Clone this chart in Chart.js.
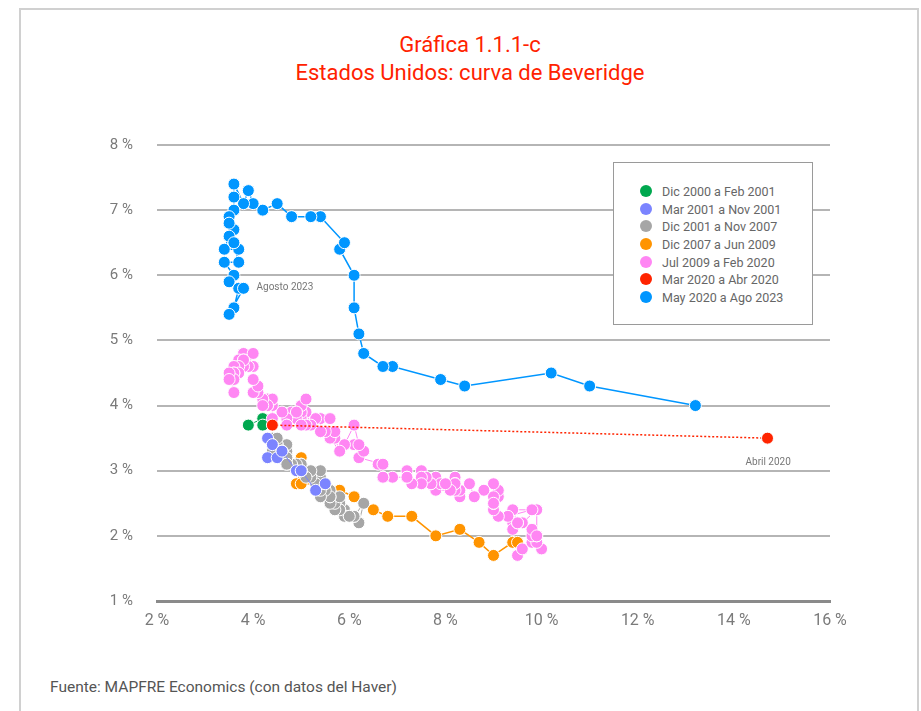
<!DOCTYPE html>
<html lang="es">
<head>
<meta charset="utf-8">
<title>Estados Unidos: curva de Beveridge</title>
<script src="https://cdn.jsdelivr.net/npm/chart.js@4.4.0/dist/chart.umd.min.js"></script>
<style>
    body { margin: 0; background: #fff; font-family: Roboto, "Open Sans", sans-serif; }
    #pagina { position: relative; width: 921px; height: 711px; overflow: hidden; }
    #marco { position: absolute; left: 19px; top: 8px; width: 896px; height: 730px; border: 2px solid #d0d0d0; }
    #titulo { position: absolute; left: 0; top: 31px; width: 940px; text-align: center; color: #ff2200; font-size: 22px; line-height: 28px; }
    #grafico { position: absolute; left: 100px; top: 130px; width: 760px; height: 520px; }
    #leyenda { position: absolute; left: 613px; top: 162px; width: 198px; height: 161px; background: #fff; border: 1.5px solid #9a9a9a; }
    #leyenda ul { list-style: none; margin: 0; padding: 20px 0 0 26px; }
    #leyenda li { height: 17.7px; line-height: 17.7px; font-size: 12.5px; color: #666; white-space: nowrap; }
    #leyenda span { display: inline-block; width: 12px; height: 12px; border-radius: 50%; margin-right: 10px; vertical-align: -1px; }
    .nota { position: absolute; font-size: 10px; color: #777; white-space: nowrap; }
    #fuente { position: absolute; left: 50px; top: 678px; font-size: 15.5px; color: #555; }
</style>
</head>
<body>
<div id="pagina">
    <div id="marco"></div>
    <div id="titulo">Gráfica 1.1.1-c<br>Estados Unidos: curva de Beveridge</div>
    <div id="grafico"><canvas id="lienzo" width="760" height="520"></canvas></div>
    <div id="leyenda"><ul id="listaLeyenda"></ul></div>
    <div class="nota" id="notaAgosto">Agosto 2023</div>
    <div class="nota" id="notaAbril">Abril 2020</div>
    <div id="fuente">Fuente: MAPFRE Economics (con datos del Haver)</div>
</div>

<script>
    // Datos: tasa de desempleo (eje X) y tasa de vacantes (eje Y), en %
    var etiquetas = ['Dic 2000 a Feb 2001', 'Mar 2001 a Nov 2001', 'Dic 2001 a Nov 2007', 'Dic 2007 a Jun 2009',
        'Jul 2009 a Feb 2020', 'Mar 2020 a Abr 2020', 'May 2020 a Ago 2023'];

    var ticksX = [2, 4, 6, 8, 10, 12, 14, 16];
    var ticksY = [1, 2, 3, 4, 5, 6, 7, 8];

    var desempleo2000 = [3.9, 4.2, 4.2];
    var vacantes2000 = [3.7, 3.8, 3.7];

    var desempleo2001 = [4.3, 4.4, 4.3, 4.5, 4.6, 4.9, 5.0, 5.3, 5.5];
    var vacantes2001 = [3.5, 3.4, 3.2, 3.2, 3.3, 3.0, 3.0, 2.7, 2.8];

    var desempleo2002 = [
        5.7,
        5.7, 5.7, 5.7, 5.9, 5.8, 5.8, 5.8, 5.7, 5.7, 5.7, 5.9, 6.0,
        5.8, 5.9, 5.9, 6.0, 6.1, 6.3, 6.2, 6.1, 6.1, 6.0, 5.8, 5.7,
        5.7, 5.6, 5.8, 5.6, 5.6, 5.6, 5.5, 5.4, 5.4, 5.5, 5.4, 5.4,
        5.3, 5.4, 5.2, 5.2, 5.1, 5.0, 5.0, 4.9, 5.0, 5.0, 5.0, 4.9,
        4.7, 4.8, 4.7, 4.7, 4.6, 4.6, 4.7, 4.7, 4.5, 4.4, 4.5, 4.4,
        4.6, 4.5, 4.4, 4.5, 4.4, 4.6, 4.7, 4.6, 4.7, 4.7, 4.7];
    var vacantes2002 = [
        2.6,
        2.6, 2.5, 2.5, 2.4, 2.5, 2.4, 2.5, 2.5, 2.4, 2.4, 2.3, 2.3,
        2.4, 2.3, 2.3, 2.3, 2.3, 2.5, 2.2, 2.3, 2.3, 2.3, 2.4, 2.4,
        2.5, 2.5, 2.6, 2.6, 2.7, 2.6, 2.7, 2.6, 2.7, 2.8, 2.8, 2.9,
        2.8, 3.0, 2.9, 3.0, 2.9, 3.0, 3.0, 3.1, 3.1, 3.1, 3.0, 3.1,
        3.2, 3.1, 3.2, 3.3, 3.3, 3.4, 3.3, 3.4, 3.4, 3.5, 3.4, 3.4,
        3.3, 3.5, 3.4, 3.3, 3.3, 3.3, 3.2, 3.3, 3.2, 3.1, 3.1];

    var desempleo2008 = [5.0, 5.0, 4.9, 5.1, 5.0, 5.4, 5.6, 5.8, 6.1, 6.1, 6.5, 6.8, 7.3, 7.8, 8.3, 8.7, 9.0, 9.4, 9.5];
    var vacantes2008 = [3.2, 3.0, 2.8, 2.9, 2.8, 2.8, 2.7, 2.7, 2.6, 2.6, 2.4, 2.3, 2.3, 2.0, 2.1, 1.9, 1.7, 1.9, 1.9];

    var desempleo2009 = [
        9.5, 9.6, 9.8, 10.0, 9.9, 9.9,
        9.8, 9.8, 9.9, 9.9, 9.6, 9.4, 9.4, 9.5, 9.5, 9.4, 9.8, 9.3,
        9.1, 9.0, 9.0, 9.1, 9.0, 9.1, 9.0, 9.0, 9.0, 8.8, 8.6, 8.5,
        8.3, 8.3, 8.2, 8.2, 8.2, 8.2, 8.2, 8.1, 7.8, 7.8, 7.7, 7.9,
        8.0, 7.7, 7.5, 7.6, 7.5, 7.5, 7.3, 7.2, 7.2, 7.2, 6.9, 6.7,
        6.6, 6.7, 6.7, 6.2, 6.3, 6.1, 6.2, 6.1, 5.9, 5.7, 5.8, 5.6,
        5.7, 5.5, 5.4, 5.4, 5.6, 5.3, 5.2, 5.1, 5.0, 5.0, 5.1, 5.0,
        4.8, 4.9, 5.0, 5.1, 4.8, 4.9, 4.8, 4.9, 5.0, 4.9, 4.7, 4.7,
        4.7, 4.6, 4.4, 4.4, 4.4, 4.3, 4.3, 4.4, 4.3, 4.2, 4.2, 4.1,
        4.0, 4.1, 4.0, 4.0, 3.8, 4.0, 3.8, 3.8, 3.7, 3.8, 3.8, 3.9,
        4.0, 3.8, 3.8, 3.7, 3.6, 3.6, 3.7, 3.6, 3.5, 3.6, 3.6, 3.6,
        3.5, 3.5];
    var vacantes2009 = [
        1.7, 1.8, 1.9, 1.8, 1.9, 2.0,
        2.0, 2.1, 2.0, 2.4, 2.2, 2.2, 2.1, 2.2, 2.2, 2.4, 2.4, 2.3,
        2.3, 2.4, 2.5, 2.6, 2.5, 2.7, 2.6, 2.5, 2.8, 2.7, 2.6, 2.8,
        2.6, 2.7, 2.9, 2.8, 2.7, 2.8, 2.8, 2.7, 2.7, 2.9, 2.8, 2.8,
        2.8, 2.8, 3.0, 2.9, 2.9, 2.8, 2.8, 3.0, 2.9, 2.9, 2.9, 2.9,
        3.1, 2.9, 3.1, 3.2, 3.3, 3.4, 3.4, 3.7, 3.4, 3.5, 3.3, 3.5,
        3.6, 3.6, 3.6, 3.8, 3.8, 3.8, 3.7, 3.9, 3.7, 3.8, 3.7, 3.9,
        3.8, 3.9, 4.0, 4.1, 3.8, 3.9, 3.9, 3.8, 3.7, 3.9, 3.8, 3.7,
        3.7, 3.9, 4.0, 3.8, 4.1, 4.1, 4.0, 4.1, 4.0, 4.1, 4.0, 4.2,
        4.2, 4.3, 4.4, 4.6, 4.8, 4.6, 4.7, 4.8, 4.7, 4.6, 4.7, 4.6,
        4.8, 4.6, 4.7, 4.6, 4.5, 4.6, 4.5, 4.5, 4.4, 4.5, 4.4, 4.2,
        4.5, 4.4];

    var desempleo2020 = [4.4, 14.7];
    var vacantes2020 = [3.7, 3.5];

    var desempleo2023 = [13.2, 11.0, 10.2, 8.4, 7.9, 6.9, 6.7, 6.3, 6.2, 6.1, 6.1, 5.8, 5.9, 5.4, 5.2, 4.8, 4.5, 4.2, 4.0, 3.9,
        3.8, 3.6, 3.6, 3.6, 3.5, 3.6, 3.5, 3.5, 3.4, 3.7, 3.6, 3.7, 3.4, 3.6, 3.5, 3.7, 3.6, 3.5, 3.8];
    var vacantes2023 = [4.0, 4.3, 4.5, 4.3, 4.4, 4.6, 4.6, 4.8, 5.1, 5.5, 6.0, 6.4, 6.5, 6.9, 6.9, 6.9, 7.1, 7.0, 7.1, 7.3,
        7.1, 7.4, 7.2, 7.0, 6.9, 6.7, 6.8, 6.6, 6.4, 6.4, 6.5, 6.2, 6.2, 6.0, 5.9, 5.8, 5.5, 5.4, 5.8];

    var colores = ['#00a84f', '#7b84ff', '#a6a6a6', '#ff9400', '#ff86f3', '#ff2400', '#0096ff'];
    var fuente = 'Roboto, "Open Sans", sans-serif';

    // Juntar dos listas en puntos {x, y}
    function puntos(xs, ys) {
        var lista = [];
        for (var i = 0; i < xs.length; i++) {
            lista.push({ x: xs[i], y: ys[i] });
        }
        return lista;
    }

    function serie(i, xs, ys, grosor, orden) {
        return {
            label: etiquetas[i],
            data: puntos(xs, ys),
            showLine: true,
            borderColor: colores[i],
            borderWidth: grosor,
            backgroundColor: colores[i],
            pointBackgroundColor: colores[i],
            pointBorderColor: '#ffffff',
            pointBorderWidth: 1,
            pointRadius: 6,
            order: orden
        };
    }

    var rojo = serie(5, desempleo2020, vacantes2020, 1.5, 2);
    rojo.borderDash = [2, 2];

    // Leyenda en HTML, dentro del recuadro
    var lista = document.getElementById('listaLeyenda');
    etiquetas.forEach(function (texto, i) {
        var li = document.createElement('li');
        li.innerHTML = '<span style="background:' + colores[i] + '"></span>' + texto;
        lista.appendChild(li);
    });

    // Colocar las notas junto a sus puntos
    var notasPlugin = {
        id: 'notas',
        afterDraw: function (chart) {
            var sx = chart.scales.x, sy = chart.scales.y;
            var ago = document.getElementById('notaAgosto');
            ago.style.left = (100 + sx.getPixelForValue(3.8) + 13) + 'px';
            ago.style.top = (130 + sy.getPixelForValue(5.8) - 7) + 'px';
            var abr = document.getElementById('notaAbril');
            abr.style.left = (100 + sx.getPixelForValue(14.7) - 22) + 'px';
            abr.style.top = (130 + sy.getPixelForValue(3.5) + 18) + 'px';
        }
    };

    var ctx = document.getElementById('lienzo').getContext('2d');
    var grafico = new Chart(ctx, {
        type: 'scatter',
        data: {
            datasets: [
                serie(0, desempleo2000, vacantes2000, 1, 4),
                serie(1, desempleo2001, vacantes2001, 1, 1),
                serie(2, desempleo2002, vacantes2002, 1, 5),
                serie(3, desempleo2008, vacantes2008, 1.5, 6),
                serie(4, desempleo2009, vacantes2009, 1, 3),
                rojo,
                serie(6, desempleo2023, vacantes2023, 1.5, 7)
            ]
        },
        options: {
            responsive: false,
            animation: false,
            devicePixelRatio: 1,
            layout: { padding: { left: 0, right: 30, top: 15, bottom: 9 } },
            plugins: {
                legend: { display: false },
                tooltip: { enabled: false },
                title: { display: false }
            },
            scales: {
                x: {
                    type: 'linear',
                    min: ticksX[0],
                    max: ticksX[ticksX.length - 1],
                    afterBuildTicks: function (s) {
                        s.ticks = ticksX.map(function (v) { return { value: v }; });
                    },
                    ticks: {
                        callback: function (v) { return v + ' %'; },
                        color: '#7a7a7a',
                        font: { family: fuente, size: 16 },
                        padding: 10,
                        maxRotation: 0
                    },
                    grid: { display: false, drawTicks: false },
                    border: { display: true, color: '#8a8a8a', width: 3 },
                    afterFit: function (s) {
                        s.height = 40;
                        s.paddingLeft = 0;
                        s.paddingRight = 0;
                    }
                },
                y: {
                    min: ticksY[0],
                    max: ticksY[ticksY.length - 1],
                    afterBuildTicks: function (s) {
                        s.ticks = ticksY.map(function (v) { return { value: v }; });
                    },
                    ticks: {
                        callback: function (v) { return v + ' %'; },
                        color: '#7a7a7a',
                        font: { family: fuente, size: 15 },
                        padding: 24
                    },
                    grid: { color: '#b5b5b5', lineWidth: 2, drawTicks: false },
                    border: { display: false },
                    afterFit: function (s) {
                        s.width = 57;
                        s.paddingTop = 0;
                        s.paddingBottom = 0;
                    }
                }
            }
        },
        plugins: [notasPlugin]
    });
</script>
</body>
</html>
